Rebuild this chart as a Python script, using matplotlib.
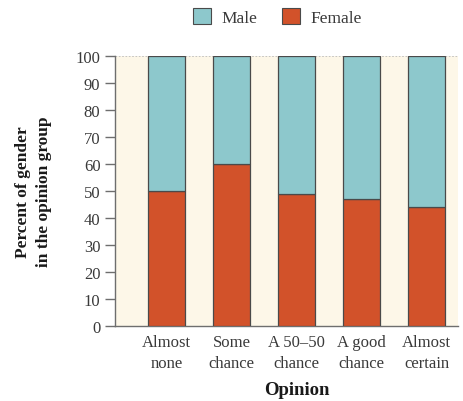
import matplotlib
matplotlib.use("Agg")
import matplotlib.pyplot as plt
from matplotlib.patches import Patch

categories = ["Almost\nnone", "Some\nchance", "A 50\u201350\nchance", "A good\nchance", "Almost\ncertain"]
female = [50, 60, 49, 47, 44]
male = [100 - f for f in female]
y_ticks = [0, 10, 20, 30, 40, 50, 60, 70, 80, 90, 100]

male_color = "#8DC8CC"
female_color = "#D2522A"
edge = "#4a4a4a"
axis_grey = "#6e6e6e"
text_color = "#3a3a3a"

plt.rcParams["font.family"] = ["Liberation Serif", "DejaVu Serif"]

fig = plt.figure(figsize=(4.64, 4.02), dpi=100)
ax = fig.add_axes([0.248, 0.187, 0.739, 0.671])
ax.set_facecolor("#FDF7E8")

x = list(range(len(categories)))
w = 0.57
ax.bar(x, female, width=w, color=female_color, edgecolor=edge, linewidth=0.9, zorder=3)
ax.bar(x, male, width=w, bottom=female, color=male_color, edgecolor=edge, linewidth=0.9, zorder=3)

ax.axhline(100, color="#bbbbbb", linewidth=0.6, linestyle=(0, (2, 2)), zorder=1)

ax.set_xlim(-0.79, 4.48)
ax.set_ylim(0, 100)
ax.set_yticks(y_ticks)
ax.set_yticklabels([str(t) for t in y_ticks], fontsize=12, color=text_color)
ax.set_xticks(x)
ax.set_xticklabels(categories, fontsize=12, color=text_color, linespacing=1.4)
ax.tick_params(axis="x", length=0, pad=6)
ax.tick_params(axis="y", length=7, width=1.0, color=axis_grey, pad=3.5)

for s in ["top", "right"]:
    ax.spines[s].set_visible(False)
for s in ["left", "bottom"]:
    ax.spines[s].set_color(axis_grey)
    ax.spines[s].set_linewidth(1.0)
ax.spines["left"].set_bounds(0, 100)

ax.set_xlabel("Opinion", fontsize=13.5, fontweight="bold", color="#1a1a1a", va="center")
ax.xaxis.set_label_coords(0.529, -0.237)
ax.set_ylabel("Percent of gender\nin the opinion group", fontsize=12.5, fontweight="bold",
              color="#1a1a1a", linespacing=1.45, va="center")
ax.yaxis.set_label_coords(-0.2376, 0.5)

handles = [Patch(facecolor=male_color, edgecolor=edge, linewidth=0.8, label="Male"),
           Patch(facecolor=female_color, edgecolor=edge, linewidth=0.8, label="Female")]
leg = fig.legend(handles=handles, loc="center", bbox_to_anchor=(0.598, 0.955), ncol=2,
                 frameon=False, fontsize=12.5, handlelength=1.05, handleheight=1.05,
                 columnspacing=1.4, handletextpad=0.6)
for t in leg.get_texts():
    t.set_color(text_color)

fig.savefig("out.png", dpi=100)
